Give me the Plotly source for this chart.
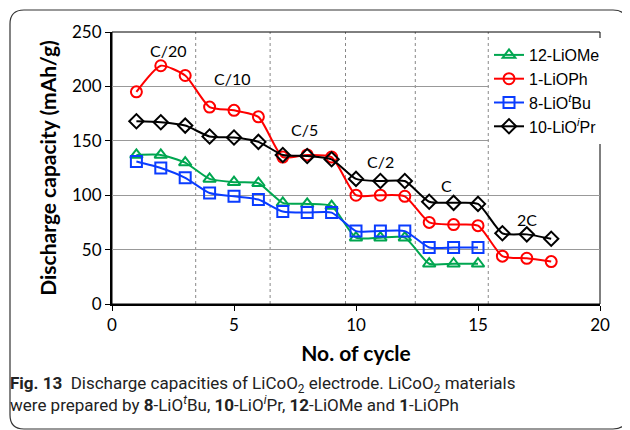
import plotly.graph_objects as go

# ── data ──────────────────────────────────────────────────────────────────────
cycles_15 = list(range(1, 16))
cycles_18 = list(range(1, 19))

cap_limeo = [137, 137, 130, 115, 112, 111, 93, 92, 90, 61, 61, 61, 37, 37, 37]
cap_lioph = [195, 219, 210, 181, 178, 172, 135, 137, 135, 100, 100, 99, 75, 73, 72, 44, 42, 39]
cap_liotbu = [131, 125, 116, 102, 99, 96, 85, 84, 84, 67, 67, 67, 52, 52, 52]
cap_lioipr = [168, 167, 164, 154, 153, 149, 137, 136, 133, 115, 113, 113, 94, 93, 92, 65, 64, 60]

rate_labels = ["C/20", "C/10", "C/5", "C/2", "C", "2C"]
rate_x = [2.3, 4.9, 7.9, 11.0, 13.7, 17.0]
rate_y = [233, 207, 160, 131, 109, 78]
rate_breaks = [3.43, 6.48, 9.57, 12.43, 15.42]

# ── colours ───────────────────────────────────────────────────────────────────
C_GREEN = "#00A650"
C_RED = "#FF0000"
C_BLUE = "#0A3CFF"
C_BLACK = "#000000"

TICK_FONT = "Lato, 'Open Sans', sans-serif"

# page body has an 8px margin -> work in page pixels and shift
OFF = 8
FIG_W, FIG_H = 630 - OFF, 430 - OFF
L, T, W, H = 112 - OFF, 32 - OFF, 488, 272

fig = go.Figure()

series = [
    ("12-LiOMe", cycles_15, cap_limeo, C_GREEN, "triangle-up-open"),
    ("1-LiOPh", cycles_18, cap_lioph, C_RED, "circle-open"),
    ("8-LiO<sup><i>t</i></sup>Bu", cycles_15, cap_liotbu, C_BLUE, "square-open"),
    ("10-LiO<sup><i>i</i></sup>Pr", cycles_18, cap_lioipr, C_BLACK, "diamond-open"),
]
for name, xs, ys, col, sym in series:
    fig.add_trace(go.Scatter(
        x=xs, y=ys, name=name, mode="lines+markers",
        line=dict(color=col, width=2, shape="spline", smoothing=0.6),
        marker=dict(symbol=sym, size=11, color=col, line=dict(color=col, width=2)),
    ))

# rate-change separators
for xb in rate_breaks:
    fig.add_shape(type="line", xref="x", yref="paper", x0=xb, x1=xb, y0=0, y1=1,
                  line=dict(color="#888888", width=1, dash="dot"), layer="below")

# rate labels
for lab, xx, yy in zip(rate_labels, rate_x, rate_y):
    fig.add_annotation(x=xx, y=yy, text=lab, showarrow=False,
                       font=dict(family=TICK_FONT, size=16, color="black"))


def px(x):  # page pixel -> paper x
    return (x - OFF - L) / W


def py(y):  # page pixel -> paper y
    return (T + H - (y - OFF)) / H


# rounded outer frame
x0, x1, y0, y1, r = 10, 627, 10, 429, 14
path = (f"M {px(x0 + r)},{py(y0)} L {px(x1 - r)},{py(y0)} "
        f"Q {px(x1)},{py(y0)} {px(x1)},{py(y0 + r)} "
        f"L {px(x1)},{py(y1 - r)} Q {px(x1)},{py(y1)} {px(x1 - r)},{py(y1)} "
        f"L {px(x0 + r)},{py(y1)} Q {px(x0)},{py(y1)} {px(x0)},{py(y1 - r)} "
        f"L {px(x0)},{py(y0 + r)} Q {px(x0)},{py(y0)} {px(x0 + r)},{py(y0)} Z")
fig.add_shape(type="path", xref="paper", yref="paper", path=path,
              line=dict(color="#333333", width=1.2))

# caption
CAP_FONT = "'Liberation Sans Narrow', Roboto, sans-serif"
fig.add_annotation(
    xref="paper", yref="paper", x=px(8), y=py(371), xanchor="left", yanchor="top",
    align="left", showarrow=False,
    text=("<b>Fig. 13</b>  Discharge capacities of LiCoO<sub>2</sub> electrode. "
          "LiCoO<sub>2</sub> materials<br>were prepared by <b>8</b>-LiO<sup><i>t</i></sup>Bu, "
          "<b>10</b>-LiO<sup><i>i</i></sup>Pr, <b>12</b>-LiOMe and <b>1</b>-LiOPh"),
    font=dict(family=CAP_FONT, size=17, color="#222222"),
)

fig.update_layout(
    width=FIG_W, height=FIG_H,
    margin=dict(l=L, r=FIG_W - L - W, t=T, b=FIG_H - T - H),
    paper_bgcolor="white", plot_bgcolor="white",
    showlegend=True,
    legend=dict(x=px(489), y=py(38), xanchor="left", yanchor="top",
                bgcolor="white", borderwidth=0, tracegroupgap=0,
                font=dict(family="'Liberation Sans', Arial, sans-serif", size=16, color="black")),
    xaxis=dict(range=[0, 20], dtick=5, showgrid=False, zeroline=False,
               showline=True, linecolor="black", linewidth=2, mirror=False,
               ticks="outside", ticklen=5, tickcolor="black",
               tickfont=dict(family=TICK_FONT, size=17, color="black"),
               title=dict(text="<b>No. of cycle</b>", standoff=12,
                          font=dict(family=TICK_FONT, size=21, color="black"))),
    yaxis=dict(range=[0, 250], dtick=50, showgrid=True, gridcolor="#999999", gridwidth=1,
               zeroline=False, showline=True, linecolor="black", linewidth=2,
               ticks="outside", ticklen=5, tickcolor="black",
               tickfont=dict(family=TICK_FONT, size=17, color="black"),
               title=dict(text="<b>Discharge capacity (mAh/g)</b>", standoff=10,
                          font=dict(family=TICK_FONT, size=21, color="black"))),
)

# thin top/right plot border
fig.add_shape(type="rect", xref="paper", yref="paper", x0=0, x1=1, y0=0, y1=1,
              line=dict(color="black", width=1), layer="below")

fig.write_html("out.html")
